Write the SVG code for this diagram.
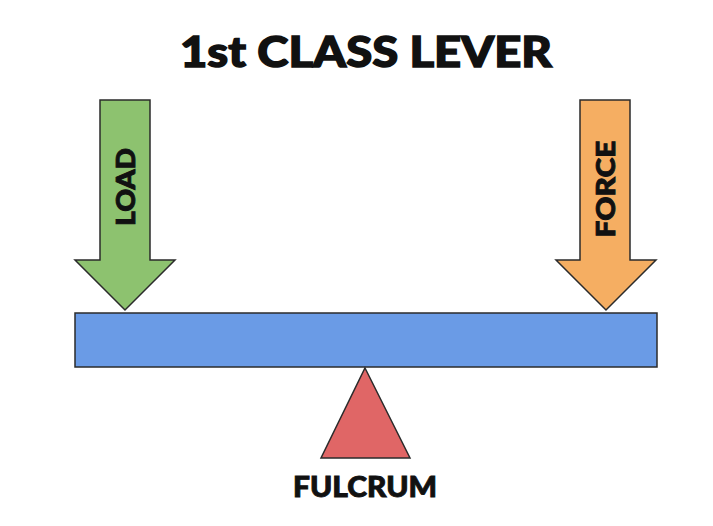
<svg xmlns="http://www.w3.org/2000/svg" width="713" height="526" viewBox="0 0 713 526">
<style>
.lbl{font-family:Lato,"Open Sans","Liberation Sans",sans-serif;font-weight:900;fill:#111;stroke:#111;stroke-width:0.9;text-anchor:middle}
.sh{stroke:#2b2b2b;stroke-width:1.5;stroke-linejoin:miter}
</style>
<rect width="713" height="526" fill="#fff"/>
<text class="lbl" x="366" y="67" font-size="42" style="stroke-width:1.4" textLength="372" lengthAdjust="spacingAndGlyphs">1st CLASS LEVER</text>
<g id="beam"><rect class="sh" x="75" y="313" width="582" height="54" fill="#6A9BE6"/></g>
<g id="load"><polygon class="sh" fill="#8DC26F" points="100,100 150,100 150,260 175,260 125,310 75,260 100,260"/>
<text class="lbl" font-size="26" transform="translate(135,187) rotate(-90)" textLength="78" lengthAdjust="spacingAndGlyphs">LOAD</text></g>
<g id="force"><polygon class="sh" fill="#F5AE62" points="580,100 630,100 630,260 656,260 606,310 556,260 580,260"/>
<text class="lbl" font-size="26" transform="translate(615,189) rotate(-90)" textLength="97" lengthAdjust="spacingAndGlyphs">FORCE</text></g>
<g id="fulcrum"><polygon class="sh" fill="#E06666" points="365,368 410,458 321,458"/>
<text class="lbl" x="365" y="497" font-size="28" textLength="144" lengthAdjust="spacingAndGlyphs">FULCRUM</text></g>
<g id="connectors"/>
</svg>
